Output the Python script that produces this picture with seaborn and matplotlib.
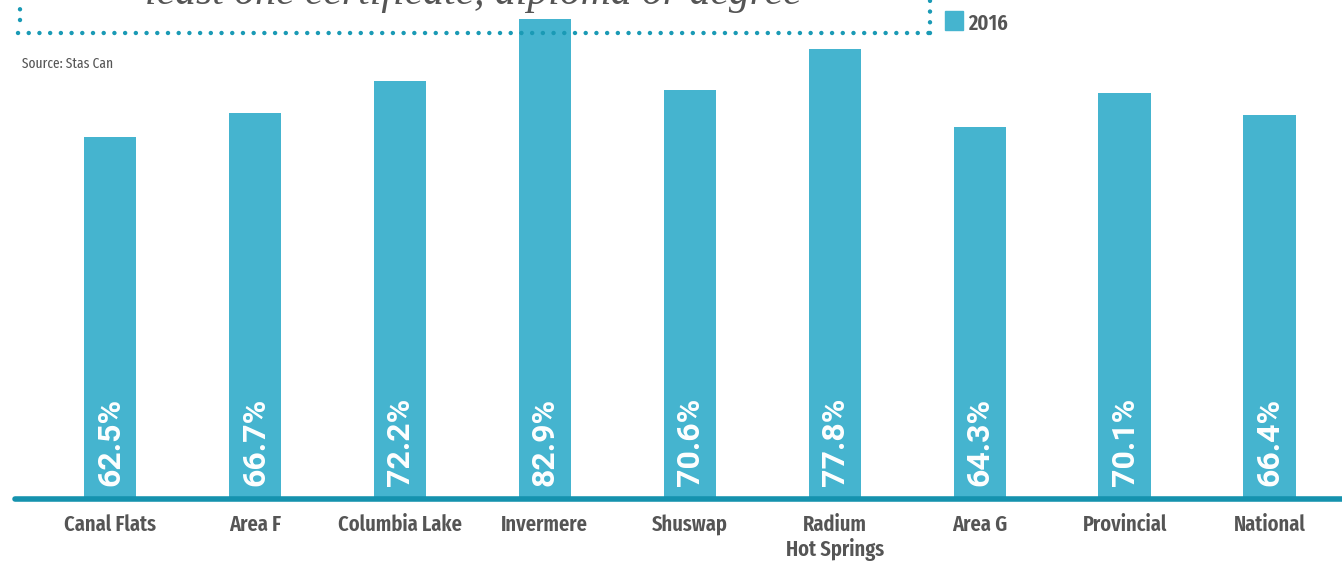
import matplotlib
matplotlib.use("Agg")
import matplotlib.pyplot as plt
import seaborn as sns
import pandas as pd
from matplotlib.lines import Line2D
from matplotlib.patches import Rectangle

# Chart data
regions = ["Canal Flats", "Area F", "Columbia Lake", "Invermere", "Shuswap",
           "Radium\nHot Springs", "Area G", "Provincial", "National"]
pct_2016 = [62.5, 66.7, 72.2, 82.9, 70.6, 77.8, 64.3, 70.1, 66.4]
labels = ["62.5%", "66.7%", "72.2%", "82.9%", "70.6%", "77.8%", "64.3%", "70.1%", "66.4%"]

bar_color = "#45b4cf"
line_color = "#1592ae"
text_gray = "#555555"
cond = ["Fira Sans Extra Condensed", "DejaVu Sans"]

sns.set_theme(style="white")
plt.rcParams["font.family"] = cond

df = pd.DataFrame({"region": regions, "pct": pct_2016})

fig = plt.figure(figsize=(13.42, 5.62), dpi=100)
ax = fig.add_axes([15 / 1342, 63 / 562, 1327 / 1342, 499 / 562])
sns.barplot(data=df, x="region", y="pct", color=bar_color, width=0.36,
            saturation=1, linewidth=0, ax=ax)

ax.set_xlim(-0.655, 8.5)
ax.set_ylim(0, 86.2)
ax.set_xlabel("")
ax.set_ylabel("")
ax.set_yticks([])
for s in ["top", "right", "left"]:
    ax.spines[s].set_visible(False)
ax.spines["bottom"].set_color(line_color)
ax.spines["bottom"].set_linewidth(4)
ax.spines["bottom"].set_capstyle("round")
ax.tick_params(axis="x", length=0, pad=11)
for t in ax.get_xticklabels():
    t.set_fontsize(16)
    t.set_fontweight("semibold")
    t.set_color(text_gray)
    t.set_linespacing(1.15)
    t.set_verticalalignment("top")

# value labels inside bars
for i, lab in enumerate(labels):
    ax.text(i, 2.3, lab, rotation=90, ha="center", va="bottom", color="white",
            fontsize=23, fontweight="bold", family=["Roboto", "DejaVu Sans"])

# dotted title box
dot = dict(color="#1a9ab5", linestyle=(0, (0.01, 2.4)), linewidth=3.2,
           dash_capstyle="round", transform=fig.transFigure)
fig.add_artist(Line2D([18 / 1342, 930 / 1342], [1 - 33 / 562, 1 - 33 / 562], **dot))
fig.add_artist(Line2D([930 / 1342, 930 / 1342], [1 - 33 / 562, 1.0], **dot))
fig.add_artist(Line2D([20 / 1342, 20 / 1342], [1 - 20 / 562, 1.0], **dot))

# title (cut off at the top, as in the source graphic)
fig.text(473 / 1342, 1 - 4 / 562, "least one certificate, diploma or degree",
         ha="center", va="baseline", fontsize=30, style="italic",
         color="#555555", family=["Liberation Serif", "DejaVu Serif"])

# legend
fig.add_artist(Rectangle((945 / 1342, 1 - 30 / 562), 18 / 1342, 19 / 562,
                         transform=fig.transFigure, color=bar_color))
fig.text(968 / 1342, 1 - 30 / 562, "2016", ha="left", va="baseline",
         fontsize=16, fontweight="semibold", color=text_gray)

fig.text(22 / 1342, 1 - 68 / 562, "Source: Stas Can", ha="left", va="baseline",
         fontsize=10.5, color=text_gray)

fig.savefig("out.png", dpi=100)
